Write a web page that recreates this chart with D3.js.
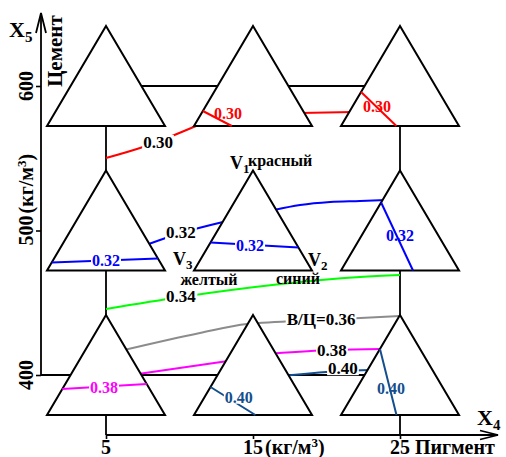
<!DOCTYPE html>
<html>
<head>
<meta charset="utf-8">
<script src="https://cdn.jsdelivr.net/npm/d3@7"></script>
<style>
  body { margin: 0; background: #fff; }
  svg { display: block; }
  text { font-family: "Liberation Serif", "Times New Roman", serif; font-weight: bold; }
</style>
</head>
<body>
<svg id="chart" width="506" height="457"></svg>
<script>
// Design grid: pigment (X4) and cement (X5) contents, kg/m³
const pigment = [5, 15, 25];
const cement = [400, 500, 600];
const pigmentTickLabels = ["5", "15", "25"];
const cementTickLabels = ["400", "500", "600"];

// Water/cement ratio levels and the colour of each iso-line
const ratioLevels = ["0.30", "0.32", "0.34", "0.36", "0.38", "0.40"];
const ratioColors = ["#ff0000", "#0000ff", "#00ff00", "#8c8c8c", "#ff00ff", "#134f8e"];

// Pigment-mix vertices of every composition triangle
const vertexNames = ["V1", "V2", "V3"];
const vertexColors = ["красный", "синий", "желтый"];

// Iso-lines running between the triangles, in (pigment, cement) units
const outerContours = [
  { level: "0.30", text: "0.30", points: [[5, 550.2], [7.52, 557.8], [9.49, 565.4], [11.12, 572.3]], labelAt: [8.54, 561.2] },
  { level: "0.30", text: null, points: [[18.2, 581.3], [21.8, 582.0]] },
  { level: "0.32", text: "0.32", points: [[7.72, 490.0], [10.10, 498.3], [12.96, 505.9]], labelAt: [10.10, 498.3] },
  { level: "0.32", text: null, points: [[16.43, 514.2], [18.2, 517.6], [20.24, 519.7], [22.28, 520.4], [24.05, 521.1]] },
  { level: "0.34", text: "0.34", points: [[5, 445.7], [10.10, 454.0], [22.28, 467.8], [25, 469.2]], labelAt: [10.10, 454.0] },
  { level: "0.36", text: "В/Ц=0.36", points: [[6.22, 417.3], [11.39, 429.1], [14.59, 435.3], [19.63, 438.1], [25, 440.8]], labelAt: [19.63, 438.1] },
  { level: "0.38", text: null, points: [[7.18, 400.7], [13.30, 409.7]] },
  { level: "0.38", text: "0.38", points: [[16.36, 414.9], [20.37, 417.3], [23.78, 418.0]], labelAt: [20.37, 417.3] },
  { level: "0.40", text: "0.40", points: [[17.24, 399.7], [21.12, 402.8], [22.96, 403.5]], labelAt: [21.12, 404.8] }
];

// Iso-lines inside the triangles; points are [V1, V2, V3] fractions
const innerContours = [
  { level: "0.30", pigment: 15, cement: 600, from: [0.15, 0, 0.85], to: [0, 0.32, 0.68], labelAt: [0.13, 0.223, 0.647], gap: false },
  { level: "0.30", pigment: 25, cement: 600, from: [0.34, 0, 0.66], to: [0, 0.47, 0.53], labelAt: [0.20, 0.205, 0.595], gap: false },
  { level: "0.32", pigment: 5, cement: 500, from: [0.08, 0, 0.92], to: [0.12, 0.88, 0], labelAt: [0.10, 0.45, 0.45], gap: true },
  { level: "0.32", pigment: 15, cement: 500, from: [0.28, 0, 0.72], to: [0.23, 0.77, 0], labelAt: [0.25, 0.35, 0.40], gap: true },
  { level: "0.32", pigment: 25, cement: 500, from: [0.68, 0, 0.32], to: [0, 0.61, 0.39], labelAt: [0.35, 0.325, 0.325], gap: false },
  { level: "0.38", pigment: 5, cement: 400, from: [0.26, 0, 0.74], to: [0.31, 0.69, 0], labelAt: [0.28, 0.343, 0.377], gap: true },
  { level: "0.40", pigment: 15, cement: 400, from: [0.28, 0, 0.72], to: [0, 0.52, 0.48], labelAt: [0.18, 0.29, 0.53], gap: true },
  { level: "0.40", pigment: 25, cement: 400, from: [0.66, 0, 0.34], to: [0, 0.47, 0.53], labelAt: [0.27, 0.289, 0.441], gap: false }
];

const svg = d3.select("#chart");
const x = d3.scaleLinear().domain([5, 25]).range([106, 400]);
const y = d3.scaleLinear().domain([400, 600]).range([375, 86]);
const color = d3.scaleOrdinal(ratioLevels, ratioColors);

const axisX = 41;   // position of the cement axis
const axisY = 435;  // position of the pigment axis
const triUp = 60, triDown = 40, triHalf = 59;

function triangle(p, c) {
  const cx = x(p), cy = y(c);
  return { A: [cx, cy - triUp], R: [cx + triHalf, cy + triDown], L: [cx - triHalf, cy + triDown] };
}
function ternary(t, v) {
  return [v[0] * t.A[0] + v[1] * t.R[0] + v[2] * t.L[0],
          v[0] * t.A[1] + v[1] * t.R[1] + v[2] * t.L[1]];
}

const lineGen = d3.line().curve(d3.curveMonotoneX);

// Frame of the design square and the two axes
const frame = svg.append("g").attr("stroke", "#000").attr("stroke-width", 1.8).attr("fill", "none");
frame.append("line").attr("x1", x(5)).attr("x2", x(25)).attr("y1", y(600)).attr("y2", y(600));
frame.append("line").attr("x1", axisX).attr("x2", x(25)).attr("y1", y(400)).attr("y2", y(400));
frame.append("line").attr("x1", x(5)).attr("x2", x(5)).attr("y1", y(600)).attr("y2", axisY);
frame.append("line").attr("x1", x(25)).attr("x2", x(25)).attr("y1", y(600)).attr("y2", axisY);
frame.append("line").attr("x1", axisX).attr("x2", axisX).attr("y1", y(400)).attr("y2", 13);
frame.append("polyline").attr("points", `${axisX - 5},33 ${axisX},13 ${axisX + 5},33`);
frame.append("line").attr("x1", x(5)).attr("x2", 498).attr("y1", axisY).attr("y2", axisY);
frame.append("polyline").attr("points", `480,430.5 498,${axisY} 480,439.5`);

// Tick marks through d3 axes
const yAxis = svg.append("g").attr("transform", `translate(${axisX},0)`)
  .call(d3.axisLeft(y).tickValues(cement).tickSize(5).tickFormat(""));
const xAxis = svg.append("g").attr("transform", `translate(0,${axisY})`)
  .call(d3.axisBottom(x).tickValues(pigment).tickSize(4).tickFormat(""));
[yAxis, xAxis].forEach(g => {
  g.select(".domain").remove();
  g.selectAll(".tick line").attr("stroke", "#000").attr("stroke-width", 1.6);
});

// Iso-lines between triangles (drawn beneath them)
const outer = svg.append("g").attr("fill", "none").attr("stroke-width", 2);
outerContours.forEach(d => {
  outer.append("path")
    .attr("d", lineGen(d.points.map(p => [x(p[0]), y(p[1])])))
    .attr("stroke", color(d.level));
});

// Composition triangles
const cells = [];
cement.forEach(c => pigment.forEach(p => cells.push({ p, c })));
svg.append("g").selectAll("polygon").data(cells).join("polygon")
  .attr("points", d => { const t = triangle(d.p, d.c); return [t.A, t.R, t.L].map(q => q.join(",")).join(" "); })
  .attr("fill", "#fff").attr("stroke", "#000").attr("stroke-width", 2).attr("stroke-linejoin", "miter");

// Iso-lines inside triangles
const inner = svg.append("g").attr("fill", "none").attr("stroke-width", 2);
innerContours.forEach(d => {
  const t = triangle(d.pigment, d.cement);
  inner.append("line")
    .attr("x1", ternary(t, d.from)[0]).attr("y1", ternary(t, d.from)[1])
    .attr("x2", ternary(t, d.to)[0]).attr("y2", ternary(t, d.to)[1])
    .attr("stroke", color(d.level));
});

// Value labels
const labels = svg.append("g");
function putLabel(pos, text, fill, size, gap) {
  const g = labels.append("g");
  const t = g.append("text")
    .attr("x", pos[0]).attr("y", pos[1])
    .attr("text-anchor", "middle").attr("dominant-baseline", "central")
    .attr("font-size", size).attr("fill", fill).text(text);
  if (gap) {
    const b = t.node().getBBox();
    g.insert("rect", "text")
      .attr("x", b.x - 1).attr("width", b.width + 2)
      .attr("y", pos[1] - size * 0.42).attr("height", size * 0.84)
      .attr("fill", "#fff");
  }
}
outerContours.filter(d => d.text).forEach(d => {
  putLabel([x(d.labelAt[0]), y(d.labelAt[1])], d.text, "#000", 17, true);
});
innerContours.forEach(d => {
  const t = triangle(d.pigment, d.cement);
  putLabel(ternary(t, d.labelAt), d.level, color(d.level), 16, d.gap);
});

// Vertex names on the central triangle
const mid = triangle(15, 500);
const vtx = svg.append("g").attr("fill", "#000");
function vertexLabel(px, py, name) {
  const t = vtx.append("text").attr("x", px).attr("y", py).attr("font-size", 18);
  t.append("tspan").text(name[0]);
  t.append("tspan").attr("font-size", 13).attr("dy", 4).text(name.slice(1));
}
vertexLabel(mid.A[0] - 23, mid.A[1] - 2, vertexNames[0]);
vertexLabel(mid.R[0] - 4, mid.R[1] - 5, vertexNames[1]);
vertexLabel(mid.L[0] - 21, mid.L[1] - 6, vertexNames[2]);
vtx.append("text").attr("x", mid.A[0] - 5).attr("y", mid.A[1] - 5).attr("font-size", 16).text(vertexColors[0]);
vtx.append("text").attr("x", mid.R[0] - 14).attr("y", mid.R[1] + 13).attr("font-size", 16).attr("text-anchor", "middle").text(vertexColors[1]);
vtx.append("text").attr("x", mid.L[0] + 15).attr("y", mid.L[1] + 14).attr("font-size", 16).attr("text-anchor", "middle").text(vertexColors[2]);

// Cement tick labels (rotated)
const unitParts = (t) => {
  t.append("tspan").attr("dx", 2).text("(кг/м");
  t.append("tspan").attr("font-size", 13).attr("dy", -7).text("3");
  t.append("tspan").attr("dy", 7).text(")");
};
cement.forEach((c, i) => {
  const t = svg.append("text").attr("transform", `translate(33,${y(c)}) rotate(-90)`).attr("font-size", 20);
  const num = t.append("tspan").text(cementTickLabels[i]);
  if (c === 500) unitParts(t);
  const w = num.node().getComputedTextLength();
  t.attr("x", -w / 2);
  num.attr("x", -w / 2);
});

// Pigment tick labels
pigment.forEach((p, i) => {
  const t = svg.append("text").attr("y", 454).attr("font-size", 20);
  const num = t.append("tspan").text(pigmentTickLabels[i]);
  if (p === 15) unitParts(t);
  if (p === 25) t.append("tspan").attr("dx", 5).text("Пигмент");
  const w = num.node().getComputedTextLength();
  num.attr("x", x(p) - w / 2);
});

// Axis names
svg.append("text").attr("transform", "translate(62,87) rotate(-90)").attr("font-size", 21).text("Цемент");
const x5 = svg.append("text").attr("x", 9).attr("y", 37).attr("font-size", 22);
x5.append("tspan").text("X");
x5.append("tspan").attr("font-size", 15).attr("dy", 5).text("5");
const x4 = svg.append("text").attr("x", 477).attr("y", 425).attr("font-size", 22);
x4.append("tspan").text("X");
x4.append("tspan").attr("font-size", 15).attr("dy", 5).text("4");
</script>
</body>
</html>
